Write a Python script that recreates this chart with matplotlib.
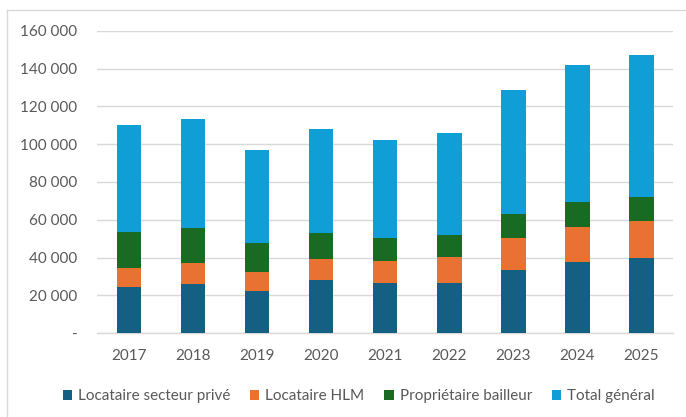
import numpy as np
import matplotlib
matplotlib.use("Agg")
import matplotlib.pyplot as plt
from matplotlib.lines import Line2D
from matplotlib.ticker import FuncFormatter

plt.rcParams['font.family'] = ['Lato', 'DejaVu Sans']

# données par année (valeurs de chaque segment empilé)
annees = ['2017', '2018', '2019', '2020', '2021', '2022', '2023', '2024', '2025']
loc_prive = [24300, 25900, 22400, 28300, 26400, 26800, 33600, 37500, 40000]
loc_hlm = [10400, 11100, 10200, 11000, 11700, 13500, 16900, 18500, 19400]
proprio_bailleur = [18800, 18500, 15000, 13700, 12400, 11700, 12400, 13200, 12500]
total_general = [56400, 57900, 49300, 54800, 51700, 53900, 65900, 72400, 75000]

series = [
    ('Locataire secteur privé', loc_prive, '#156082'),
    ('Locataire HLM', loc_hlm, '#E97132'),
    ('Propriétaire bailleur', proprio_bailleur, '#196B24'),
    ('Total général', total_general, '#0F9ED5'),
]

gris_texte = '#595959'
gris_grille = '#d9d9d9'

fig = plt.figure(figsize=(6.86, 4.17), dpi=100)
ax = fig.add_axes([0.1414, 0.2007, 0.8397, 0.7257])

x = np.arange(len(annees))
bas = np.zeros(len(annees))
for nom, vals, couleur in series:
    ax.bar(x, vals, width=0.39, bottom=bas, color=couleur, label=nom, zorder=3)
    bas += np.array(vals)

ax.set_xlim(-0.5, len(annees) - 0.5)
ax.set_ylim(0, 160000)
ax.set_yticks(np.arange(0, 160001, 20000))


def fmt_milliers(v, pos):
    if v == 0:
        return '-'
    return f"{int(v):,}".replace(',', ' ')


ax.yaxis.set_major_formatter(FuncFormatter(fmt_milliers))
ax.set_xticks(x)
ax.set_xticklabels(annees)

ax.grid(axis='y', color=gris_grille, linewidth=1.0, zorder=0)
for s in ['top', 'right', 'left']:
    ax.spines[s].set_visible(False)
ax.spines['bottom'].set_color(gris_grille)
ax.spines['bottom'].set_linewidth(1.0)
ax.tick_params(axis='both', length=0, labelsize=11, labelcolor=gris_texte)
ax.tick_params(axis='y', pad=14)
ax.tick_params(axis='x', pad=11)

leg = fig.legend(loc='center', bbox_to_anchor=(0.523, 0.05), ncol=4, frameon=False,
                 fontsize=11, handlelength=0.6, handleheight=0.6, handletextpad=0.4,
                 columnspacing=1.3)
for t in leg.get_texts():
    t.set_color(gris_texte)

# cadre du graphique
fig.add_artist(Line2D([7 / 686, 7 / 686], [0, 1 - 10 / 417], transform=fig.transFigure,
                      color=gris_grille, linewidth=1.0))
fig.add_artist(Line2D([7 / 686, 1], [1 - 10 / 417, 1 - 10 / 417], transform=fig.transFigure,
                      color=gris_grille, linewidth=1.0))

fig.savefig('out.png', dpi=100)
